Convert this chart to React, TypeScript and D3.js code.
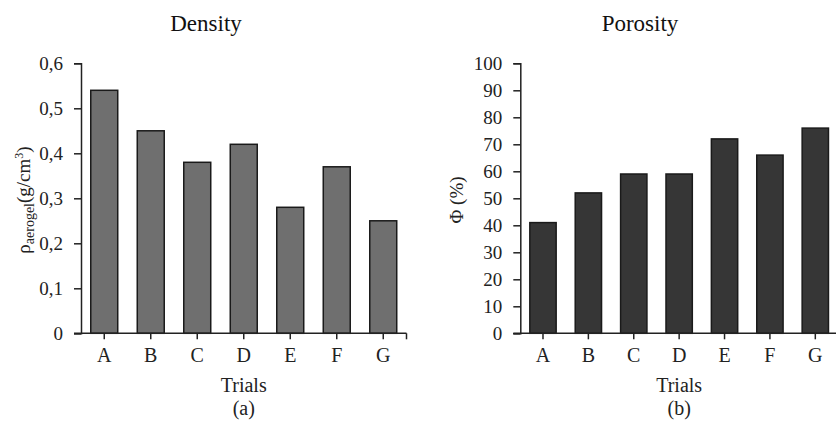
import React, { useRef, useEffect } from 'react';
import * as d3 from 'd3';

const TRIALS = ['A', 'B', 'C', 'D', 'E', 'F', 'G'];
const DENSITY = [0.54, 0.45, 0.38, 0.42, 0.28, 0.37, 0.25];
const POROSITY = [41, 52, 59, 59, 72, 66, 76];
const DENSITY_TICKS = [0, 0.1, 0.2, 0.3, 0.4, 0.5, 0.6];
const POROSITY_TICKS = [0, 10, 20, 30, 40, 50, 60, 70, 80, 90, 100];

const FONT = '"Liberation Serif", "Times New Roman", serif';

type Panel = {
  values: number[];
  ticks: number[];
  max: number;
  fmt: (d: number) => string;
  x0: number;
  x1: number;
  fill: string;
  title: string;
  titleX: number;
  caption: string;
  yLabel: (t: d3.Selection<SVGTextElement, unknown, null, undefined>) => void;
  yLabelX: number;
};

export default function App() {
  const ref = useRef<SVGSVGElement>(null);

  useEffect(() => {
    if (!ref.current) return;
    const svg = d3.select(ref.current);
    svg.selectAll('*').remove();

    const top = 63.3;
    const bottom = 333.3;

    const panels: Panel[] = [
      {
        values: DENSITY, ticks: DENSITY_TICKS, max: 0.6,
        fmt: d => (d === 0 ? '0' : d3.format('.1f')(d).replace('.', ',')),
        x0: 81, x1: 406.5, fill: '#6f6f6f', title: 'Density', titleX: 206, caption: '(a)',
        yLabelX: 30,
        yLabel: t => {
          t.append('tspan').text('ρ');
          t.append('tspan').attr('font-size', 14).attr('dy', 4).text('aerogel');
          t.append('tspan').attr('dy', -4).text('(g/cm');
          t.append('tspan').attr('font-size', 12).attr('dy', -7).text('3');
          t.append('tspan').attr('dy', 7).text(')');
        },
      },
      {
        values: POROSITY, ticks: POROSITY_TICKS, max: 100,
        fmt: d => String(d),
        x0: 520.3, x1: 838, fill: '#363636', title: 'Porosity', titleX: 640, caption: '(b)',
        yLabelX: 463,
        yLabel: t => { t.text('Φ (%)'); },
      },
    ];

    panels.forEach(p => {
      const g = svg.append('g');
      const x = d3.scaleBand<string>().domain(TRIALS).range([p.x0, p.x1])
        .paddingInner(0.42).paddingOuter(0.21);
      const y = d3.scaleLinear().domain([0, p.max]).range([bottom, top]);
      const mid = (p.x0 + p.x1) / 2;

      // bars
      g.selectAll('rect.bar').data(p.values).join('rect')
        .attr('class', 'bar')
        .attr('x', (_, i) => x(TRIALS[i])!)
        .attr('width', x.bandwidth())
        .attr('y', d => y(d))
        .attr('height', d => bottom - y(d))
        .attr('fill', p.fill)
        .attr('stroke', '#1a1a1a')
        .attr('stroke-width', 1.5);

      // y axis
      const yAxis = g.append('g')
        .attr('transform', `translate(${p.x0},0)`)
        .attr('font-family', FONT)
        .call(d3.axisLeft(y).tickValues(p.ticks).tickSize(7).tickPadding(11).tickFormat(d => p.fmt(d as number)));
      yAxis.attr('font-family', FONT);
      yAxis.select('.domain').attr('stroke', '#222').attr('stroke-width', 1.5);
      yAxis.selectAll('.tick line').attr('stroke', '#222').attr('stroke-width', 1.5);
      yAxis.selectAll('.tick text')
        .attr('fill', '#222').attr('font-size', 19).attr('font-family', FONT);

      // x axis line (extends left of the y axis)
      g.append('line')
        .attr('x1', p.x0 - 7).attr('x2', p.x1)
        .attr('y1', bottom).attr('y2', bottom)
        .attr('stroke', '#222').attr('stroke-width', 1.5);
      const tickXs = TRIALS.map(t => x(t)! + x.bandwidth() / 2).concat([p.x1]);
      g.selectAll('line.xt').data(tickXs).join('line')
        .attr('class', 'xt')
        .attr('x1', d => d).attr('x2', d => d)
        .attr('y1', bottom).attr('y2', bottom + 6)
        .attr('stroke', '#222').attr('stroke-width', 1.5);
      g.selectAll('text.xl').data(TRIALS).join('text')
        .attr('class', 'xl')
        .attr('x', d => x(d)! + x.bandwidth() / 2)
        .attr('y', 362)
        .attr('text-anchor', 'middle')
        .attr('font-size', 20).attr('font-family', FONT).attr('fill', '#222')
        .text(d => d);

      // titles
      g.append('text')
        .attr('x', p.titleX).attr('y', 31)
        .attr('text-anchor', 'middle')
        .attr('font-size', 23).attr('font-family', FONT).attr('fill', '#111')
        .text(p.title);
      g.append('text')
        .attr('x', mid).attr('y', 392)
        .attr('text-anchor', 'middle')
        .attr('font-size', 20).attr('font-family', FONT).attr('fill', '#222')
        .text('Trials');
      g.append('text')
        .attr('x', mid).attr('y', 415)
        .attr('text-anchor', 'middle')
        .attr('font-size', 20).attr('font-family', FONT).attr('fill', '#222')
        .text(p.caption);

      const yl = g.append('text')
        .attr('transform', `translate(${p.yLabelX},200) rotate(-90)`)
        .attr('text-anchor', 'middle')
        .attr('font-size', 19).attr('font-family', FONT).attr('fill', '#222');
      p.yLabel(yl);
    });
  }, []);

  return (
    <svg
      ref={ref}
      width={836}
      height={422}
      style={{ position: 'absolute', left: 0, top: 0, background: '#fff' }}
    />
  );
}
